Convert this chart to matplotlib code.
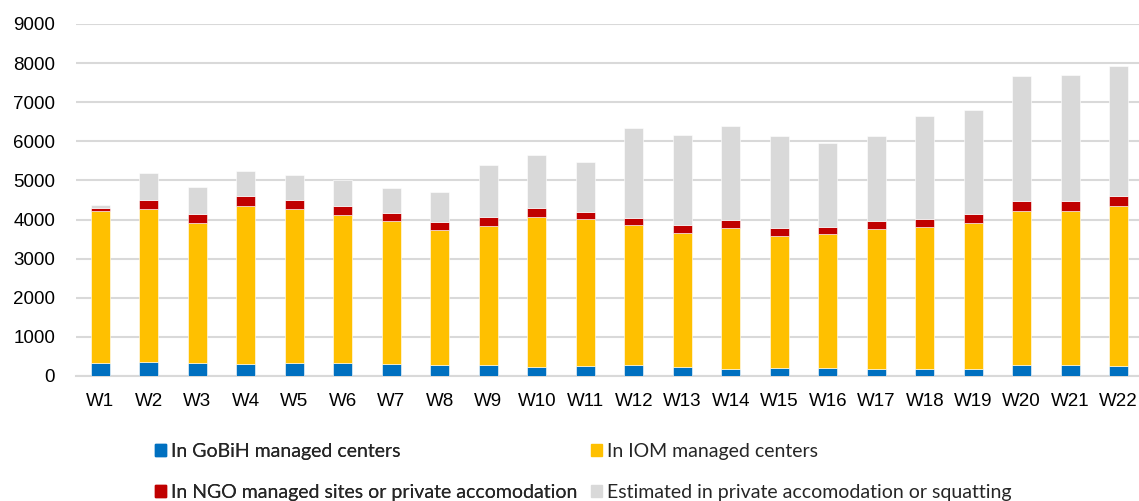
import matplotlib.pyplot as plt
import numpy as np
from matplotlib.patches import Patch

# Data
weeks = [f"W{i}" for i in range(1, 23)]
gobih = [340, 358, 340, 315, 324, 324, 315, 290, 273, 239, 256,
         290, 230, 188, 205, 213, 188, 170, 188, 281, 281, 264]
iom = [3870, 3905, 3565, 4042, 3947, 3794, 3641, 3453, 3555, 3836, 3751,
       3563, 3436, 3589, 3375, 3427, 3563, 3632, 3733, 3947, 3947, 4093]
ngo = [95, 237, 238, 247, 230, 238, 204, 204, 247, 230, 179,
       196, 204, 213, 205, 179, 221, 213, 230, 256, 256, 247]
estimated = [70, 700, 700, 647, 649, 657, 648, 750, 1330, 1347, 1279,
             2302, 2302, 2404, 2345, 2148, 2158, 2643, 2652, 3197, 3206, 3333]

labels = ["In GoBiH managed centers", "In IOM managed centers",
          "In NGO managed sites or private accomodation",
          "Estimated in private accomodation or squatting"]
colors = ["#0070C0", "#FFC000", "#C00000", "#D9D9D9"]

plt.rcParams['font.family'] = ['Liberation Sans', 'DejaVu Sans']

fig = plt.figure(figsize=(11.39, 5.01), dpi=100)
ax = fig.add_axes([76 / 1139, 125 / 501, 1067 / 1139, 352 / 501])

x = np.arange(len(weeks))
series = [gobih, iom, ngo, estimated]
bottom = np.zeros(len(weeks))
for vals, col, lab in zip(series, colors, labels):
    ax.bar(x, vals, width=0.4, bottom=bottom, color=col, label=lab,
           edgecolor='white', linewidth=0.4, zorder=3)
    bottom += np.array(vals)

ax.set_xlim(-0.5, len(weeks) - 0.5)
ax.set_ylim(0, 9000)
ax.set_yticks(range(0, 9001, 1000))
ax.set_xticks(x)
ax.set_xticklabels(weeks)
ax.grid(axis='y', color='#D9D9D9', linewidth=1.5, zorder=0)
for s in ['top', 'right', 'left']:
    ax.spines[s].set_visible(False)
ax.spines['bottom'].set_color('#D9D9D9')
ax.spines['bottom'].set_linewidth(1.5)
ax.tick_params(axis='y', length=0, pad=15, labelsize=13.5, labelcolor='black')
ax.tick_params(axis='x', length=0, pad=12, labelsize=13.5, labelcolor='black')

# legend: two columns placed separately so they line up with the reference
handles = [Patch(color=c) for c in colors]
leg_kw = dict(loc='upper left', frameon=False,
              prop={'family': 'Lato', 'size': 14}, labelcolor='#262626',
              handlelength=0.57, handleheight=0.57, handletextpad=0.27,
              labelspacing=1.24, borderpad=0, borderaxespad=0)
leg1 = fig.legend([handles[0], handles[2]], [labels[0], labels[2]],
                  bbox_to_anchor=(155 / 1139, 1 - 443 / 501), **leg_kw)
fig.add_artist(leg1)
fig.legend([handles[1], handles[3]], [labels[1], labels[3]],
           bbox_to_anchor=(591 / 1139, 1 - 443 / 501), **leg_kw)

fig.savefig("out.png", dpi=100)
